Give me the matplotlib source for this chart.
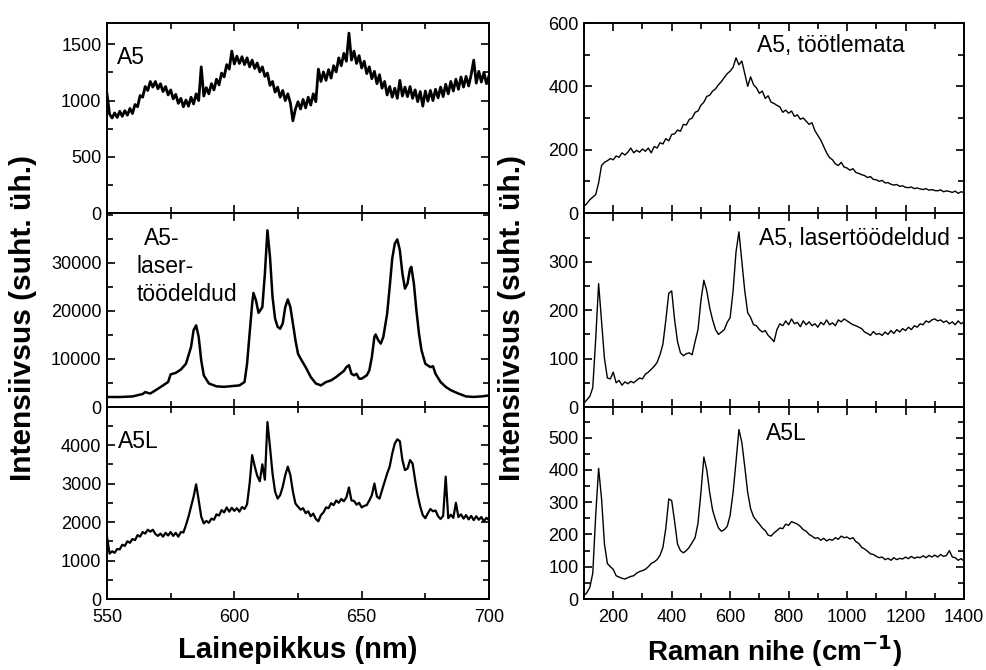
import numpy as np
import matplotlib.pyplot as plt
from matplotlib.ticker import MultipleLocator

plt.rcParams['font.family'] = ['Liberation Sans', 'DejaVu Sans']

# =========================
# Fluorescence spectra (nm)
# =========================

wl = np.arange(550, 701, 1)

pl_untreated = [
    1060, 880, 845, 890, 850, 905, 860, 910, 870, 930,
    885, 965, 945, 1045, 1030, 1125, 1090, 1170, 1120, 1170,
    1105, 1150, 1080, 1125, 1050, 1095, 1015, 1055, 975, 1020,
    945, 1005, 950, 1030, 970, 1060, 1000, 1300, 1040, 1115,
    1060, 1150, 1095, 1190, 1140, 1245, 1210, 1320, 1280, 1440,
    1325, 1395, 1330, 1390, 1320, 1380, 1300, 1360, 1285, 1335,
    1255, 1300, 1215, 1245, 1135, 1170, 1075, 1120, 1030, 1090,
    1000, 1060, 980, 820, 925, 990, 925, 1010, 935, 1030,
    960, 1060, 990, 1280, 1170, 1255, 1180, 1275, 1200, 1310,
    1255, 1380, 1310, 1420, 1350, 1600, 1360, 1440, 1330, 1400,
    1290, 1350, 1240, 1300, 1195, 1260, 1150, 1230, 1110, 1170,
    1050, 1125, 1030, 1110, 1020, 1180, 1040, 1120, 1035, 1125,
    1020, 1095, 990, 1080, 950, 1085, 995, 1090, 1000, 1100,
    1025, 1120, 1035, 1145, 1060, 1170, 1085, 1190, 1100, 1210,
    1120, 1215, 1130, 1230, 1360, 1155, 1260, 1165, 1250, 1150,
    1220,
]

wl_laser = [
    550, 555, 560, 564, 565, 567, 570, 572, 574, 575,
    577, 579, 581, 583, 584, 585, 586, 587, 588, 590,
    593, 596, 600, 602, 604, 605, 606, 607, 607.5, 608.5,
    609.5, 611, 612, 613, 614, 615, 616, 617, 618, 619,
    620, 621, 622, 623, 624, 625, 626, 628, 630, 632,
    634, 636, 638, 640, 642, 643, 644, 645, 646, 647,
    648, 649, 650, 652, 653, 654, 655, 655.5, 656.5, 657.5,
    658.5, 660, 661, 662, 663, 664, 665, 666, 667, 668,
    669, 669.5, 670.5, 671.5, 672.5, 673.5, 675, 677, 678, 679,
    681, 683, 685, 688, 691, 694, 697, 700,
]
pl_laser = [
    2080, 2080, 2200, 2700, 3100, 2800, 3800, 4500, 5200, 6800,
    7100, 7800, 9000, 12500, 16000, 17000, 14600, 9700, 6600, 4900,
    4300, 4200, 4400, 4500, 5200, 9000, 15300, 21500, 23750, 22200,
    19600, 20800, 27800, 36800, 31250, 22900, 18400, 16700, 16300, 17400,
    20800, 22400, 20800, 17400, 13900, 11100, 10100, 8300, 6250, 4900,
    4500, 5200, 5550, 6250, 7100, 7500, 8300, 8700, 6900, 6600,
    6900, 5900, 5900, 6600, 7600, 10400, 14600, 15100, 13900, 13200,
    14600, 19400, 25000, 30900, 34000, 34900, 32600, 27800, 24650, 25700,
    28800, 29200, 25700, 20100, 15300, 11800, 9000, 8300, 8500, 6900,
    5200, 4200, 3500, 2800, 2200, 2100, 2200, 2400,
]

pl_a5l = [
    1620, 1180, 1240, 1200, 1300, 1290, 1410, 1380, 1500, 1460,
    1560, 1530, 1660, 1620, 1740, 1700, 1800, 1750, 1800, 1690,
    1640, 1700, 1620, 1720, 1650, 1740, 1640, 1720, 1620, 1740,
    1730, 1920, 2140, 2400, 2660, 2980, 2570, 2140, 1965, 2030,
    1980, 2090, 2060, 2200, 2170, 2310, 2250, 2380, 2270, 2370,
    2290, 2360, 2270, 2390, 2340, 2460, 3000, 3740, 3450, 3200,
    3060, 3500, 3100, 4600, 3950, 3260, 2790, 2610, 2700, 2920,
    3220, 3440, 3220, 2790, 2480, 2400, 2320, 2360, 2230, 2280,
    2150, 2220, 2080, 2020, 2180, 2250, 2380, 2360, 2490, 2440,
    2560, 2500, 2600, 2540, 2640, 2900, 2560, 2550, 2450, 2500,
    2380, 2420, 2440, 2560, 2700, 3000, 2660, 2610, 2830, 3050,
    3260, 3440, 3780, 4040, 4150, 4100, 3610, 3350, 3390, 3610,
    3520, 3090, 2700, 2400, 2180, 2100, 2230, 2340, 2280, 2300,
    2150, 2080, 2160, 3180, 2100, 2190, 2110, 2500, 2130, 2200,
    2090, 2180, 2070, 2160, 2050, 2150, 2060, 2130, 2020, 2110,
    2050,
]

# =========================
# Raman spectra (cm-1)
# =========================

shift = np.arange(100, 1401, 10)

raman_untreated = [
    21, 30, 42, 50, 58, 95, 150, 160, 165, 172,
    168, 180, 176, 190, 183, 192, 205, 190, 198, 192,
    202, 195, 205, 190, 210, 205, 222, 218, 235, 228,
    248, 250, 262, 258, 280, 278, 295, 300, 318, 322,
    340, 350, 368, 372, 385, 392, 405, 415, 428, 440,
    448, 460, 490, 468, 480, 440, 400, 430, 405, 395,
    378, 385, 362, 370, 350, 346, 340, 335, 318, 325,
    315, 322, 305, 310, 296, 300, 290, 280, 285, 260,
    245, 230, 210, 190, 175, 168, 155, 150, 160, 145,
    142, 135, 140, 128, 125, 121, 118, 112, 115, 106,
    105, 100, 103, 95, 96, 91, 88, 90, 84, 86,
    81, 80, 82, 77, 79, 76, 74, 77, 72, 74,
    71, 70, 73, 67, 70, 68, 65, 69, 62, 67,
    65,
]

raman_laser = [
    8, 15, 22, 40, 140, 255, 178, 100, 60, 58,
    72, 50, 55, 45, 52, 48, 53, 50, 55, 60,
    58, 68, 72, 78, 84, 92, 108, 130, 180, 235,
    240, 180, 135, 112, 106, 110, 112, 108, 135, 160,
    220, 262, 240, 205, 180, 160, 150, 155, 160, 175,
    185, 240, 320, 362, 300, 240, 195, 185, 170, 168,
    160, 155, 158, 148, 142, 135, 160, 172, 168, 178,
    170, 182, 172, 175, 166, 178, 170, 176, 168, 172,
    165, 175, 170, 180, 170, 174, 168, 180, 176, 182,
    178, 174, 170, 168, 165, 162, 155, 152, 148, 156,
    150, 152, 148, 155, 150, 158, 152, 160, 155, 162,
    158, 165, 160, 168, 165, 172, 170, 178, 175, 180,
    182, 178, 180, 175, 178, 172, 176, 170, 178, 172,
    176,
]

raman_a5l = [
    10, 20, 36, 80, 259, 405, 311, 170, 110, 100,
    92, 72, 68, 64, 62, 66, 70, 72, 80, 85,
    88, 92, 100, 110, 115, 122, 135, 160, 220, 310,
    305, 240, 170, 150, 143, 150, 160, 175, 190, 235,
    330, 440, 400, 330, 275, 245, 220, 210, 215, 225,
    260, 330, 425, 525, 485, 410, 330, 280, 255, 243,
    232, 220, 212, 198, 195, 205, 212, 220, 218, 232,
    228, 240, 236, 232, 225, 215, 210, 200, 195, 188,
    190, 182, 188, 180, 185, 182, 190, 185, 195, 190,
    192, 186, 190, 178, 172, 160, 155, 148, 140, 138,
    132, 128, 130, 122, 126, 120, 128, 122, 126, 124,
    130, 125, 132, 126, 130, 128, 134, 128, 135, 130,
    136, 130, 138, 132, 135, 150, 130, 128, 120, 125,
    118,
]

# =========================
# Figure
# =========================

fig = plt.figure(figsize=(9.87, 6.70), dpi=100)
W, H = 987, 670


def panel(left, right, top, bottom):
    return fig.add_axes([left / W, 1 - bottom / H, (right - left) / W, (bottom - top) / H])


def style(ax, xlim, xmajor, xminor, ylim, yticks, yminor, xlabels):
    ax.set_xlim(*xlim)
    ax.set_ylim(*ylim)
    ax.xaxis.set_major_locator(MultipleLocator(xmajor))
    ax.xaxis.set_minor_locator(MultipleLocator(xminor))
    ax.set_yticks(yticks)
    ax.yaxis.set_minor_locator(MultipleLocator(yminor))
    ax.tick_params(which='both', direction='in', top=True, right=True,
                   labelsize=13, width=1.2, pad=4)
    ax.tick_params(axis='x', pad=7)
    ax.tick_params(which='major', length=6)
    ax.tick_params(which='minor', length=4)
    ax.tick_params(axis='x', labelbottom=xlabels)
    for s in ax.spines.values():
        s.set_linewidth(1.4)


rows = [(23, 213), (213, 407), (407, 599)]

# left column
axL = [panel(107, 489, t, b) for t, b in rows]
axL[0].plot(wl, pl_untreated, color='black', lw=2.0)
axL[1].plot(wl_laser, pl_laser, color='black', lw=1.8)
axL[2].plot(wl, pl_a5l, color='black', lw=1.6)

style(axL[0], (550, 700), 50, 25, (0, 1690), [0, 500, 1000, 1500], 250, False)
style(axL[1], (550, 700), 50, 25, (0, 40400), [0, 10000, 20000, 30000], 5000, False)
style(axL[2], (550, 700), 50, 25, (0, 4990), [0, 1000, 2000, 3000, 4000], 500, True)

txt = dict(fontsize=16.5, va='center')
axL[0].text(0.026, 0.82, 'A5', transform=axL[0].transAxes, **txt)
axL[1].text(0.097, 0.866, 'A5-', transform=axL[1].transAxes, **txt)
axL[1].text(0.078, 0.722, 'laser-', transform=axL[1].transAxes, **txt)
axL[1].text(0.078, 0.582, 'töödeldud', transform=axL[1].transAxes, **txt)
axL[2].text(0.028, 0.82, 'A5L', transform=axL[2].transAxes, **txt)

# right column
axR = [panel(584, 964, t, b) for t, b in rows]
axR[0].plot(shift, raman_untreated, color='black', lw=1.0)
axR[1].plot(shift, raman_laser, color='black', lw=1.0)
axR[2].plot(shift, raman_a5l, color='black', lw=1.0)

style(axR[0], (100, 1400), 200, 100, (0, 600), [0, 200, 400, 600], 100, False)
style(axR[1], (100, 1400), 200, 100, (0, 401), [0, 100, 200, 300], 50, False)
style(axR[2], (100, 1400), 200, 100, (0, 595), [0, 100, 200, 300, 400, 500], 50, True)

axR[0].text(0.455, 0.884, 'A5, töötlemata', transform=axR[0].transAxes, **txt)
axR[1].text(0.46, 0.866, 'A5, lasertöödeldud', transform=axR[1].transAxes, **txt)
axR[2].text(0.479, 0.86, 'A5L', transform=axR[2].transAxes, **txt)

# axis titles
fig.text(298 / W, 1 - 650 / H, 'Lainepikkus (nm)', ha='center', va='center',
         fontsize=21, fontweight='bold')
fig.text(775 / W, 1 - 651 / H, 'Raman nihe (cm$^{\\mathbf{-1}}$)', ha='center', va='center',
         fontsize=20, fontweight='bold')
fig.text(23 / W, 1 - 318 / H, 'Intensiivsus (suht. üh.)', ha='center', va='center',
         rotation=90, fontsize=21.5, fontweight='bold')
fig.text(512 / W, 1 - 318 / H, 'Intensiivsus (suht. üh.)', ha='center', va='center',
         rotation=90, fontsize=21.5, fontweight='bold')

fig.savefig('out.png', dpi=100)
